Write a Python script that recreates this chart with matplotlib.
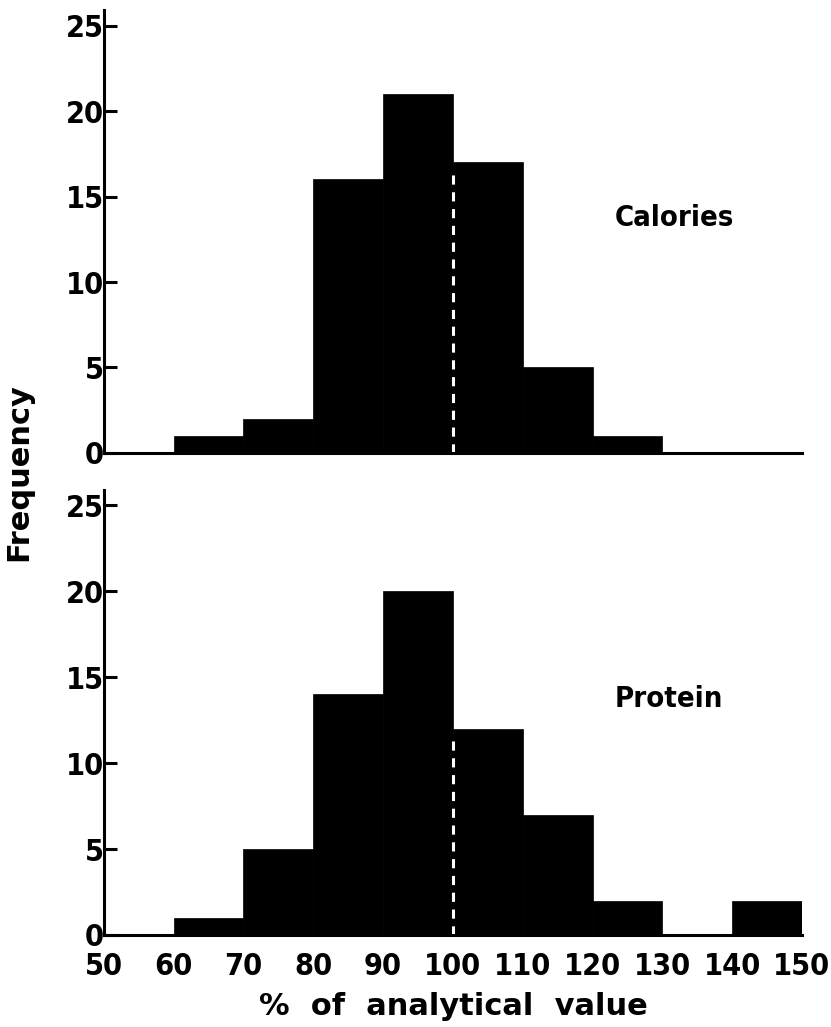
import matplotlib
matplotlib.use("Agg")
import matplotlib.pyplot as plt
import numpy as np

plt.rcParams['font.family'] = ['DejaVu Sans']
plt.rcParams['font.stretch'] = 'condensed'

# bins: 50-60, 60-70, ..., 140-150
bin_edges = [50, 60, 70, 80, 90, 100, 110, 120, 130, 140, 150]
calories = [0, 1, 2, 16, 21, 17, 5, 1, 0, 0]
protein = [0, 1, 5, 14, 20, 12, 7, 2, 0, 2]
panel_names = ["Calories", "Protein"]
y_ticks = [0, 5, 10, 15, 20, 25]
x_ticks = [50, 60, 70, 80, 90, 100, 110, 120, 130, 140, 150]
ref_value = 100

fig = plt.figure(figsize=(8.31, 10.27), dpi=100)
ax1 = fig.add_axes([0.125, 0.559, 0.840, 0.431])
ax2 = fig.add_axes([0.125, 0.0896, 0.840, 0.4334])

def draw_panel(ax, counts, name, show_x):
    lefts = np.array(bin_edges[:-1])
    widths = np.diff(bin_edges)
    ax.bar(lefts, counts, width=widths, align='edge', color='black',
           edgecolor='black', linewidth=0.5)
    # dashed reference line at 100 %
    idx = bin_edges.index(ref_value)
    h = counts[idx] - 0.5
    ax.plot([ref_value, ref_value], [0, h], color='white', lw=2.2,
            dashes=(3, 2.5), solid_capstyle='butt')
    ax.set_xlim(50, 150)
    ax.set_ylim(0, 25.9)
    for s in ['top', 'right']:
        ax.spines[s].set_visible(False)
    for s in ['left', 'bottom']:
        ax.spines[s].set_linewidth(2.2)
    ax.set_yticks(y_ticks)
    ax.tick_params(axis='y', direction='in', length=9, width=2.2,
                   labelsize=22, pad=0)
    if show_x:
        ax.set_xticks(x_ticks)
        ax.tick_params(axis='x', length=0, labelsize=22, pad=12)
    else:
        ax.set_xticks([])
    for lab in ax.get_yticklabels() + ax.get_xticklabels():
        lab.set_fontweight('bold')
    ax.text(0.732, 0.53, name, transform=ax.transAxes, fontsize=21,
            fontweight='bold', ha='left', va='center')

draw_panel(ax1, calories, panel_names[0], False)
draw_panel(ax2, protein, panel_names[1], True)

ax2.set_xlabel("%  of  analytical  value", fontsize=22, fontweight='bold',
               fontstretch='normal', labelpad=8)
fig.text(0.022, 0.54, "Frequency", rotation=90, fontsize=22,
         fontweight='bold', fontstretch='normal', ha='center', va='center')

fig.savefig("out.png", dpi=100)
